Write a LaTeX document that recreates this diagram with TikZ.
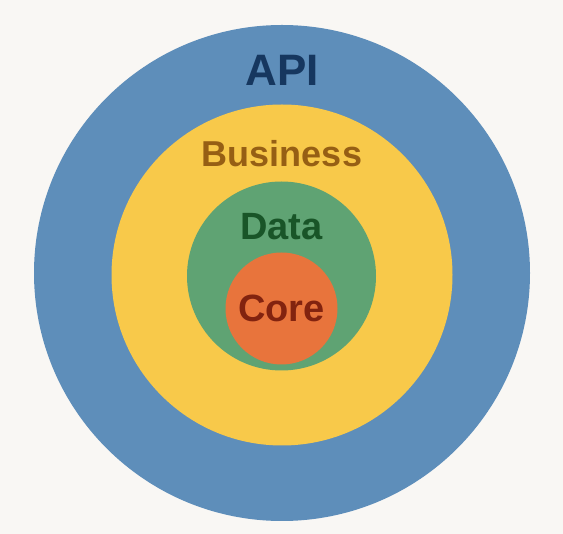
\documentclass[tikz,border=0pt]{standalone}
\usepackage{fontspec}
\setmainfont{Liberation Sans}
\usetikzlibrary{positioning}
\definecolor{paper}{HTML}{F9F7F4}
\definecolor{apiblue}{RGB}{94,142,186}
\definecolor{busyellow}{RGB}{248,201,74}
\definecolor{datagreen}{RGB}{95,163,115}
\definecolor{coreorange}{RGB}{232,116,60}
\definecolor{apitext}{RGB}{22,55,95}
\definecolor{bustext}{RGB}{150,95,20}
\definecolor{datatext}{RGB}{25,85,40}
\definecolor{coretext}{RGB}{130,35,15}
\tikzset{
  ring/.style={circle, inner sep=0pt, draw=none},
  layer/.style={anchor=base, inner sep=0pt, font=\bfseries\fontsize{#1}{#1}\selectfont}
}

\begin{document}
\begin{tikzpicture}[x=1pt,y=-1pt]
\fill[paper] (0,0) rectangle (563,534); %background
\node[ring, fill=apiblue, minimum size=496pt] (apiring) at (282,273) {};
\node[ring, fill=busyellow, minimum size=341pt] (busring) at (282,275) {};
\node[ring, fill=datagreen, minimum size=189pt] (dataring) at (281.5,276) {};
\node[ring, fill=coreorange, minimum size=112pt] (corering) at (281.5,308.5) {};
\node[layer=44, text=apitext] (api) at (282,86) {API};
\node[layer=36, text=bustext] (bus) at (282,167) {Business};
\node[layer=38, text=datatext] (data) at (281.5,240) {Data};
\node[layer=38, text=coretext] (core) at (281.5,322) {Core};
\end{tikzpicture}
\end{document}
